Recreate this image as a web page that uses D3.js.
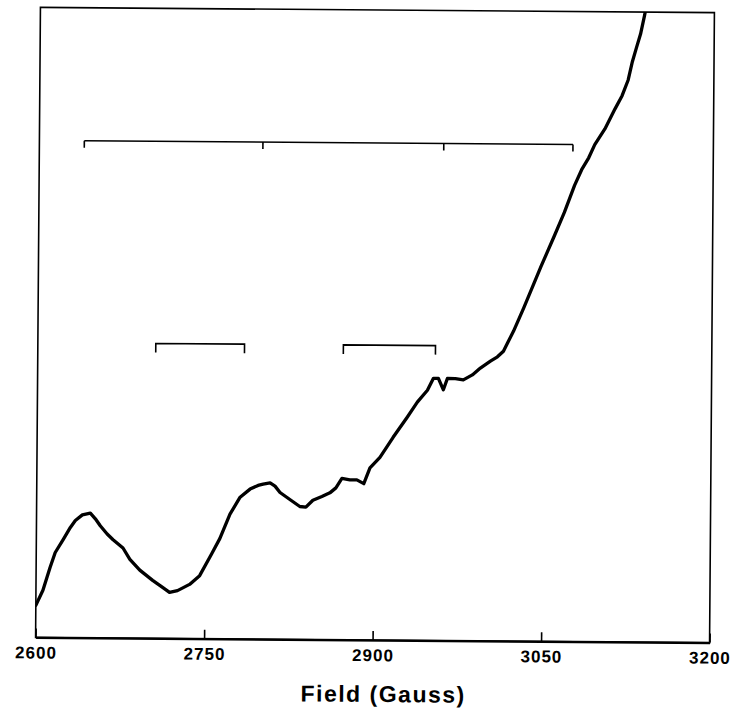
<!DOCTYPE html>
<html>
<head>
<meta charset="utf-8">
<script src="https://cdn.jsdelivr.net/npm/d3@7"></script>
<style>
  html, body { margin: 0; padding: 0; background: #fff; }
  svg { display: block; }
</style>
</head>
<body>
<svg id="chart" width="736" height="710"></svg>
<script>
// EPR spectrum, field in gauss vs. signal (arbitrary units)
const field = [
  2600.0, 2606.2, 2612.4, 2616.9, 2624.0, 2630.2, 2634.6, 2640.8, 2647.9, 2652.4,
  2656.8, 2663.0, 2668.3, 2677.2, 2683.4, 2692.3, 2703.8, 2712.7, 2718.9, 2726.0,
  2736.7, 2745.6, 2756.2, 2763.3, 2772.2, 2781.1, 2789.9, 2797.0, 2801.5, 2807.7,
  2812.1, 2816.6, 2825.4, 2834.3, 2839.7, 2845.9, 2853.9, 2861.0, 2866.3, 2871.6,
  2878.7, 2884.9, 2891.1, 2896.5, 2905.3, 2916.9, 2929.3, 2938.2, 2947.1, 2952.4,
  2956.8, 2961.3, 2964.8, 2971.9, 2979.0, 2987.0, 2994.1, 3003.0, 3009.2, 3014.5,
  3018.1, 3023.4, 3032.3, 3039.4, 3047.4, 3058.9, 3067.8, 3076.7, 3082.9, 3089.1,
  3094.4, 3103.3, 3112.2, 3118.4, 3123.7, 3127.3, 3130.8, 3134.4, 3137.9, 3141.5
];
const signal = [
  5.1, 7.5, 11.1, 13.5, 15.6, 17.5, 18.6, 19.5, 19.8, 18.9,
  17.8, 16.5, 15.6, 14.3, 12.5, 10.8, 9.2, 8.1, 7.3, 7.6,
  8.6, 10.0, 13.5, 15.9, 19.8, 22.5, 23.8, 24.4, 24.6, 24.8,
  24.3, 23.3, 22.2, 21.1, 21.0, 22.1, 22.7, 23.3, 24.1, 25.6,
  25.4, 25.4, 24.8, 27.3, 29.0, 32.2, 35.4, 37.8, 39.7, 41.6,
  41.6, 39.8, 41.6, 41.6, 41.4, 42.2, 43.3, 44.4, 45.1, 46.0,
  47.3, 49.2, 52.9, 56.0, 59.5, 64.3, 68.1, 72.4, 74.9, 76.8,
  78.9, 81.4, 84.6, 86.7, 89.2, 92.1, 94.3, 96.5, 99.5, 103.2
];

// Stick diagrams: one three-interval comb and two doublets
const combPositions = [2640, 2799, 2960, 3075];
const combLevel = 78.9;
const doubletPairs = [[2705, 2784], [2872, 2954]];
const doubletLevel = 46.8;

const xTicks = [2600, 2750, 2900, 3050, 3200];
const xLabel = "Field (Gauss)";

const plotLeft = 38, plotRight = 712, plotTop = 10, plotBottom = 640;
const svg = d3.select("#chart");

const x = d3.scaleLinear().domain([2600, 3200]).range([plotLeft, plotRight]);
const y = d3.scaleLinear().domain([0, 100]).range([plotBottom, plotTop]);

// whole plot sits slightly skewed on the page
const g = svg.append("g")
  .attr("transform", `rotate(0.44, ${(plotLeft + plotRight) / 2}, ${(plotTop + plotBottom) / 2})`);

g.append("clipPath").attr("id", "plotClip")
  .append("rect")
  .attr("x", plotLeft).attr("y", plotTop)
  .attr("width", plotRight - plotLeft).attr("height", plotBottom - plotTop);

// frame
g.append("rect")
  .attr("x", plotLeft).attr("y", plotTop)
  .attr("width", plotRight - plotLeft).attr("height", plotBottom - plotTop)
  .attr("fill", "none").attr("stroke", "#000").attr("stroke-width", 1.6);

// bottom axis
const axis = d3.axisBottom(x)
  .tickValues(xTicks)
  .tickFormat(d3.format("d"))
  .tickSizeInner(-9)
  .tickSizeOuter(0)
  .tickPadding(9);

const ax = g.append("g")
  .attr("transform", `translate(0,${plotBottom})`)
  .call(axis);
ax.select(".domain").attr("stroke", "#000").attr("stroke-width", 2.2);
ax.selectAll(".tick line").attr("stroke", "#000").attr("stroke-width", 1.6);
ax.selectAll(".tick text")
  .attr("fill", "#000")
  .style("font-family", "'Liberation Sans', Arial, sans-serif")
  .style("font-weight", "bold")
  .style("font-size", "17px")
  .style("letter-spacing", "1px");

g.append("text")
  .attr("x", 386)
  .attr("y", 702)
  .attr("text-anchor", "middle")
  .style("font-family", "'Liberation Sans', Arial, sans-serif")
  .style("font-weight", "bold")
  .style("font-size", "23px")
  .style("letter-spacing", "1.5px")
  .text(xLabel);

// spectrum trace
const pts = field.map((f, i) => [f, signal[i]]);
const line = d3.line().x(d => x(d[0])).y(d => y(d[1])).curve(d3.curveLinear);
g.append("path")
  .datum(pts)
  .attr("clip-path", "url(#plotClip)")
  .attr("d", line)
  .attr("fill", "none")
  .attr("stroke", "#000")
  .attr("stroke-width", 3.3)
  .attr("stroke-linejoin", "round")
  .attr("stroke-linecap", "round");

// comb bracket
const combY = y(combLevel);
g.append("line")
  .attr("x1", x(combPositions[0])).attr("x2", x(combPositions[combPositions.length - 1]))
  .attr("y1", combY).attr("y2", combY)
  .attr("stroke", "#000").attr("stroke-width", 1.6);
g.selectAll(".combTick").data(combPositions).enter().append("line")
  .attr("class", "combTick")
  .attr("x1", d => x(d)).attr("x2", d => x(d))
  .attr("y1", combY).attr("y2", combY + 7)
  .attr("stroke", "#000").attr("stroke-width", 1.6);

// doublet brackets
const dY = y(doubletLevel);
doubletPairs.forEach(([a, b]) => {
  g.append("path")
    .attr("d", `M${x(a)},${dY + 9}V${dY}H${x(b)}V${dY + 9}`)
    .attr("fill", "none").attr("stroke", "#000").attr("stroke-width", 1.6);
});
</script>
</body>
</html>
